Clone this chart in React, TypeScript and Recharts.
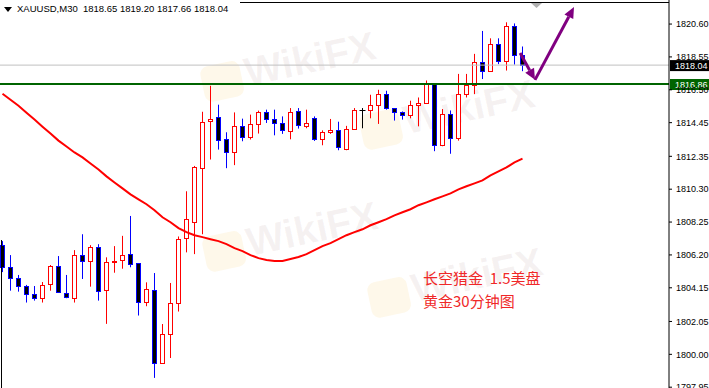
import React from 'react';
import { ComposedChart, Bar, Line, XAxis, YAxis, ReferenceLine } from 'recharts';

// XAUUSD M30 candles, oldest first
const opens = [
  1806.81, 1805.43, 1804.74, 1804.25, 1803.77, 1803.5, 1804.37, 1805.49, 1803.81, 1803.54,
  1806.17, 1805.84, 1806.67, 1804.0, 1805.77, 1805.86, 1806.23, 1805.67, 1803.25, 1804.0,
  1799.44, 1801.24, 1803.19, 1807.23, 1808.28, 1811.64, 1814.53, 1814.82, 1813.44, 1812.63,
  1814.26, 1813.56, 1814.37, 1815.12, 1814.68, 1814.43, 1813.94, 1815.15, 1814.25, 1814.74,
  1813.44, 1813.89, 1814.0, 1812.82, 1814.06, 1815.26, 1815.24, 1815.55, 1816.23, 1815.36,
  1815.09, 1814.93, 1815.53, 1815.67, 1816.87, 1813.07, 1814.99, 1813.5, 1816.23, 1816.79,
  1818.26, 1817.66, 1819.34, 1818.32, 1820.48, 1818.65,
];
const highs = [
  1807.06, 1806.19, 1804.95, 1804.33, 1804.26, 1804.51, 1805.57, 1806.13, 1804.95, 1806.5,
  1807.49, 1806.81, 1806.87, 1806.05, 1806.75, 1807.39, 1808.63, 1805.67, 1804.49, 1805.07,
  1801.89, 1804.45, 1807.35, 1810.17, 1811.75, 1815.13, 1816.75, 1815.57, 1813.85, 1815.09,
  1814.7, 1814.95, 1815.2, 1815.26, 1815.26, 1814.84, 1815.36, 1815.36, 1815.26, 1814.84,
  1813.97, 1814.68, 1814.51, 1814.25, 1815.36, 1815.36, 1816.19, 1816.5, 1816.44, 1815.36,
  1815.15, 1815.82, 1816.02, 1817.08, 1816.9, 1815.3, 1815.21, 1817.49, 1817.49, 1818.74,
  1820.17, 1819.71, 1819.71, 1820.71, 1820.64, 1819.2,
];
const lows = [
  1805.13, 1803.97, 1803.91, 1803.23, 1803.35, 1803.23, 1803.97, 1803.83, 1803.5, 1803.23,
  1804.7, 1804.22, 1803.35, 1801.9, 1805.09, 1805.34, 1805.43, 1802.42, 1803.0, 1798.53,
  1799.4, 1799.77, 1802.67, 1806.36, 1806.25, 1807.49, 1812.15, 1812.77, 1811.61, 1811.8,
  1813.29, 1813.4, 1813.77, 1814.43, 1813.66, 1813.75, 1813.41, 1814.08, 1814.1, 1813.31,
  1813.04, 1813.75, 1812.73, 1812.73, 1814.04, 1814.1, 1814.72, 1814.37, 1815.26, 1814.58,
  1814.64, 1814.72, 1814.22, 1815.64, 1812.67, 1812.98, 1812.51, 1813.33, 1816.02, 1816.23,
  1817.17, 1817.63, 1818.1, 1817.7, 1818.07, 1817.66,
];
const closes = [
  1805.44, 1804.74, 1804.25, 1803.75, 1803.5, 1804.31, 1805.49, 1803.87, 1803.56, 1806.17,
  1805.8, 1806.67, 1803.97, 1805.76, 1805.84, 1806.17, 1805.61, 1803.25, 1804.06, 1799.44,
  1801.26, 1803.19, 1807.17, 1808.41, 1811.7, 1814.49, 1814.68, 1813.35, 1812.63, 1814.25,
  1813.56, 1814.39, 1815.12, 1814.68, 1814.43, 1814.0, 1815.12, 1814.31, 1814.43, 1813.44,
  1813.87, 1814.0, 1812.94, 1814.06, 1815.24, 1815.26, 1815.55, 1816.23, 1815.34, 1815.13,
  1814.9, 1815.53, 1815.65, 1816.87, 1813.07, 1814.99, 1813.5, 1816.23, 1816.79, 1818.26,
  1817.66, 1819.34, 1818.32, 1820.48, 1818.66, 1818.04,
];
// moving average (red line)
const maValues = [
  1816.25, 1815.88, 1815.51, 1815.07, 1814.64, 1814.2, 1813.77, 1813.33, 1812.96, 1812.59,
  1812.28, 1811.9, 1811.53, 1811.1, 1810.72, 1810.35, 1809.98, 1809.67, 1809.36, 1808.99,
  1808.55, 1808.24, 1807.87, 1807.62, 1807.43, 1807.31, 1807.18, 1807.06, 1806.87, 1806.62,
  1806.44, 1806.19, 1806.0, 1805.88, 1805.82, 1805.82, 1805.94, 1806.07, 1806.25, 1806.5,
  1806.75, 1806.94, 1807.18, 1807.43, 1807.62, 1807.8, 1808.05, 1808.24, 1808.43, 1808.67,
  1808.86, 1809.05, 1809.3, 1809.48, 1809.67, 1809.85, 1810.04, 1810.29, 1810.48, 1810.66,
  1810.85, 1811.16, 1811.41, 1811.66, 1811.97, 1812.21,
];
const priceTicks = [
  1797.95, 1800.0, 1802.05, 1804.15, 1806.2, 1808.25, 1810.3, 1812.35, 1814.45, 1816.5,
  1818.55, 1820.6,
];
const bidPrice = 1818.04;
const levelPrice = 1816.86;
const titleText = 'XAUUSD,M30  1818.65 1819.20 1817.66 1818.04';
const noteLines = ['长空猎金  1.5美盘', '黄金30分钟图'];
// hand drawn arrows, in (bar index, price)
const arrowDown = [{ x: 64.7, y: 1818.8 }, { x: 66.56, y: 1817.12 }];
const arrowUp = [{ x: 66.56, y: 1817.12 }, { x: 71.44, y: 1821.66 }];

const data = opens.map((open, i) => ({
  i,
  open,
  high: highs[i],
  low: lows[i],
  close: closes[i],
  hl: [lows[i], highs[i]],
  ma: maValues[i],
}));

const Candle = (props: any) => {
  const { x, y, width, height, payload } = props;
  if (!payload) return null;
  const { open, close, high, low } = payload;
  const top = Math.min(y, y + height);
  const h = Math.abs(height);
  const ppu = high === low ? 0 : h / (high - low);
  const yOf = (v: number) => top + (high - v) * ppu;
  const cx = Math.round(x + width / 2) + 0.5;
  const bTop = Math.round(yOf(Math.max(open, close))) + 0.5;
  const bBot = Math.round(yOf(Math.min(open, close))) + 0.5;
  const hi = yOf(high);
  const lo = yOf(low);
  if (open === close) {
    return (
      <g stroke='#000' strokeWidth={1}>
        <line x1={cx} x2={cx} y1={hi} y2={lo} />
        <line x1={cx - 3} x2={cx + 3} y1={bTop} y2={bTop} />
      </g>
    );
  }
  const bull = close > open;
  const col = bull ? '#ff0000' : '#0000ff';
  return (
    <g>
      <line x1={cx} x2={cx} y1={hi} y2={bTop} stroke={col} />
      <line x1={cx} x2={cx} y1={bBot} y2={lo} stroke={col} />
      <rect
        x={cx - 2}
        y={bTop}
        width={4}
        height={Math.max(bBot - bTop, 1)}
        fill={bull ? '#fff' : '#000'}
        stroke={col}
        strokeWidth={1}
      />
    </g>
  );
};

const PriceTag = (props: any) => {
  const { viewBox, text, bg } = props;
  if (!viewBox) return null;
  const left = viewBox.x + viewBox.width + 1;
  const y = viewBox.y;
  return (
    <g>
      <rect x={left} y={y - 5} width={40} height={11} fill={bg} />
      <text x={left + 5} y={y + 4} fill='#fff' fontSize={9} fontFamily='Liberation Sans'>
        {text}
      </text>
    </g>
  );
};

const Arrow = (props: any) => {
  const { x1, y1, x2, y2 } = props;
  const ang = Math.atan2(y2 - y1, x2 - x1);
  const len = 11;
  const bx = x2 - Math.cos(ang) * len;
  const by = y2 - Math.sin(ang) * len;
  const nx = -Math.sin(ang) * 5;
  const ny = Math.cos(ang) * 5;
  return (
    <g>
      <line x1={x1} y1={y1} x2={bx} y2={by} stroke='#800080' strokeWidth={3} />
      <polygon
        points={`${x2},${y2} ${bx + nx},${by + ny} ${bx - nx},${by - ny}`}
        fill='#800080'
      />
    </g>
  );
};

const Watermark = ({ left, top }: { left: number; top: number }) => (
  <div style={{ position: 'absolute', left, top, transform: 'rotate(-12deg)', pointerEvents: 'none' }}>
    <div
      style={{
        position: 'absolute',
        left: 0,
        top: 4,
        width: 40,
        height: 36,
        borderRadius: 8,
        background: 'rgba(250,225,160,0.22)',
      }}
    />
    <div
      style={{
        position: 'absolute',
        left: 44,
        top: -4,
        fontFamily: 'Liberation Sans',
        fontWeight: 'bold',
        fontSize: 40,
        color: 'rgba(150,110,110,0.09)',
        whiteSpace: 'nowrap',
      }}
    >
      WikiFX
    </div>
  </div>
);

export default function App() {
  return (
    <div style={{ position: 'absolute', left: 0, top: 0, width: 709, height: 388, background: '#fff', overflow: 'hidden' }}>
      <Watermark left={198} top={64} />
      <Watermark left={200} top={234} />
      <Watermark left={357} top={112} />
      <Watermark left={365} top={280} />
      <div style={{ position: 'absolute', left: 0, top: 0 }}>
        <ComposedChart width={709} height={388} data={data} margin={{ top: 0, right: 0, bottom: 0, left: 0 }}>
          <XAxis dataKey='i' type='number' domain={[-0.3125, 83.3125]} hide />
          <YAxis
            orientation='right'
            width={40}
            domain={[1797.9, 1822.1]}
            allowDataOverflow
            ticks={priceTicks}
            interval={0}
            tickFormatter={(v: number) => v.toFixed(2)}
            tick={{ fontSize: 9, fill: '#000', fontFamily: 'Liberation Sans', textAnchor: 'start' }}
            tickSize={3}
            tickMargin={4}
            axisLine={{ stroke: '#000' }}
            tickLine={{ stroke: '#000' }}
          />
          <ReferenceLine y={bidPrice} stroke='#c0c0c0' label={<PriceTag text={bidPrice.toFixed(2)} bg='#000' />} />
          <ReferenceLine
            y={levelPrice}
            stroke='#006400'
            strokeWidth={2}
            label={<PriceTag text={levelPrice.toFixed(2)} bg='#006400' />}
          />
          <Bar dataKey='hl' barSize={5} shape={<Candle />} isAnimationActive={false} />
          <Line
            type='linear'
            dataKey='ma'
            stroke='#ff0000'
            strokeWidth={2}
            dot={false}
            activeDot={false}
            isAnimationActive={false}
          />
          <ReferenceLine segment={arrowDown} ifOverflow='visible' shape={<Arrow />} />
          <ReferenceLine segment={arrowUp} ifOverflow='visible' shape={<Arrow />} />
        </ComposedChart>
      </div>
      {/* chart window frame bits */}
      <div style={{ position: 'absolute', left: 240, top: 2, width: 429, height: 1, background: '#000' }} />
      <div style={{ position: 'absolute', left: 1, top: 240, width: 1, height: 148, background: '#000' }} />
      <svg style={{ position: 'absolute', left: 531, top: 3 }} width={12} height={6}>
        <polygon points='0,0 11,0 5.5,5' fill='#b0b0b0' />
      </svg>
      <svg style={{ position: 'absolute', left: 4, top: 7 }} width={9} height={6}>
        <polygon points='0,0 8,0 4,5' fill='#000' />
      </svg>
      <div
        style={{
          position: 'absolute',
          left: 17,
          top: 3,
          fontFamily: 'Liberation Sans',
          fontSize: 9.5,
          color: '#000',
          whiteSpace: 'pre',
        }}
      >
        {titleText}
      </div>
      <div
        style={{
          position: 'absolute',
          left: 423,
          top: 266,
          fontFamily: '"Noto Sans CJK SC"',
          fontSize: 15,
          lineHeight: '23px',
          color: '#f02828',
          whiteSpace: 'pre',
        }}
      >
        {noteLines.map((t) => (
          <div key={t}>{t}</div>
        ))}
      </div>
    </div>
  );
}
